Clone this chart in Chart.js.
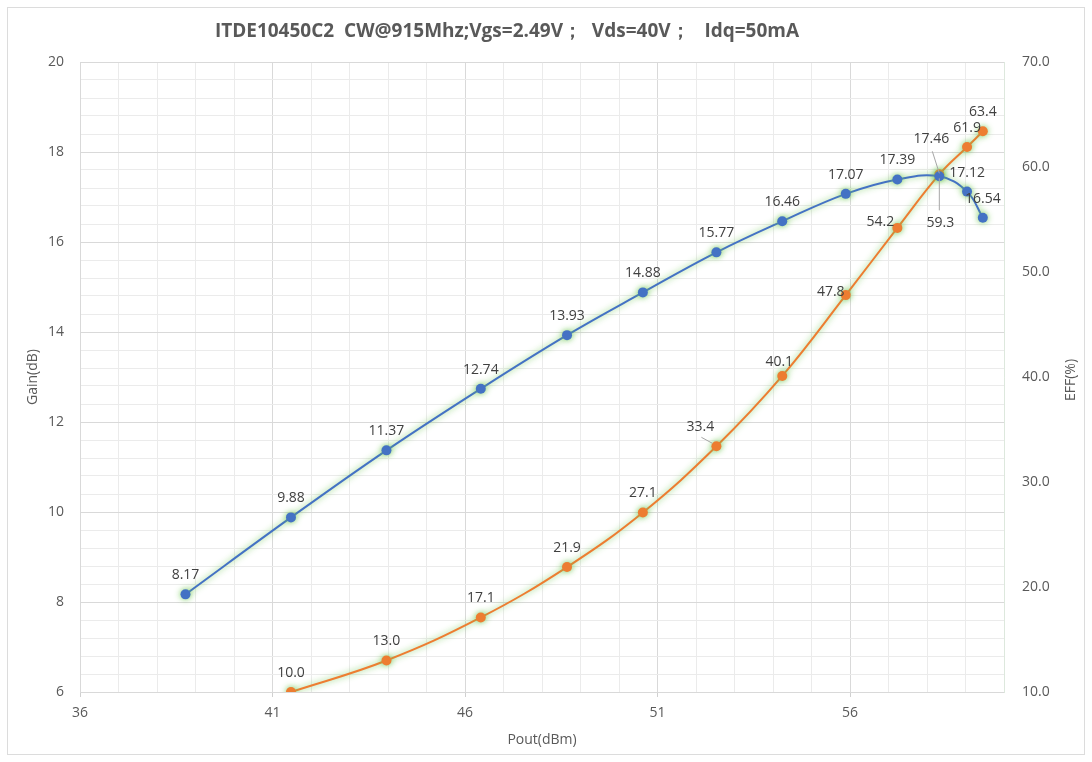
<!DOCTYPE html>
<html>
<head>
<meta charset="utf-8">
<script src="https://cdn.jsdelivr.net/npm/chart.js@4.4.0/dist/chart.umd.min.js"></script>
<style>
  html, body { margin: 0; padding: 0; background: #fff; }
  #wrap { width: 1092px; height: 762px; }
</style>
</head>
<body>
<div id="wrap"><canvas id="gainChart" width="1092" height="762"></canvas></div>
<script>
// Data
const pout = [38.74, 41.48, 43.96, 46.41, 48.65, 50.62, 52.53, 54.24, 55.89, 57.23, 58.32, 59.04, 59.45];
const gain = [8.17, 9.88, 11.37, 12.74, 13.93, 14.88, 15.77, 16.46, 17.07, 17.39, 17.46, 17.12, 16.54];
// efficiency starts at the second Pout point
const eff = [10.0, 13.0, 17.1, 21.9, 27.1, 33.4, 40.1, 47.8, 54.2, 59.3, 61.9, 63.4];
const xTickLabels = [36, 41, 46, 51, 56];
const gainTickLabels = [6, 8, 10, 12, 14, 16, 18, 20];
const effTickLabels = [10, 20, 30, 40, 50, 60, 70];
const chartTitle = 'ITDE10450C2  CW@915Mhz;Vgs=2.49V；  Vds=40V；   Idq=50mA';

const gainData = gain.map((g, i) => ({ x: pout[i], y: g }));
const effData = eff.map((e, i) => ({ x: pout[i + 1], y: e }));

const txtColor = '#595959';
const font = "'Open Sans', 'Noto Sans', sans-serif";

// label placement tweaks (dx, dy, leader line) per dataset/index
const labelTweaks = {
    '0-10': { dx: -8, dy: -37, lead: [-7, -25, 0, -3] },
    '1-5': { dx: -16, dy: -19, lead: [-15, -9, -4, -3] },
    '1-6': { dx: -3, dy: -14 },
    '1-7': { dx: -15, dy: -3 },
    '1-8': { dx: -17, dy: -6 },
    '1-9': { dx: 1, dy: 49, lead: [0, 4, 0, 36] }
};

// background, outer border, title and right axis title
const frame = {
    id: 'frame',
    beforeDraw(chart) {
        const c = chart.ctx;
        c.save();
        c.fillStyle = '#fff';
        c.fillRect(0, 0, chart.width, chart.height);
        c.strokeStyle = '#dcdcdc';
        c.lineWidth = 1;
        c.strokeRect(7.5, 7.5, chart.width - 15, chart.height - 15);
        c.restore();
    },
    afterDraw(chart) {
        const c = chart.ctx;
        c.save();
        c.fillStyle = txtColor;
        c.textAlign = 'center';
        c.textBaseline = 'middle';
        c.font = 'bold 19px ' + font;
        c.fillText(chartTitle, 507, 32);
        // right axis title reads bottom to top
        c.translate(1071, 380);
        c.rotate(-Math.PI / 2);
        c.font = '14px ' + font;
        c.fillText('EFF(%)', 0, 0);
        c.restore();
    }
};

// green glow around the lines
const glow = {
    id: 'glow',
    beforeDatasetDraw(chart) {
        const c = chart.ctx;
        c.save();
        c.shadowColor = 'rgba(110, 200, 80, 0.9)';
        c.shadowBlur = 6;
    },
    afterDatasetDraw(chart) {
        chart.ctx.restore();
    }
};

// value labels
const valueLabels = {
    id: 'valueLabels',
    afterDatasetsDraw(chart) {
        const c = chart.ctx;
        c.save();
        c.font = '14px ' + font;
        c.fillStyle = '#404040';
        c.textAlign = 'center';
        c.textBaseline = 'middle';
        chart.data.datasets.forEach((ds, di) => {
            const meta = chart.getDatasetMeta(di);
            meta.data.forEach((pt, i) => {
                const v = ds.data[i].y;
                const t = labelTweaks[di + '-' + i] || { dx: 0, dy: -19 };
                if (t.lead) {
                    c.strokeStyle = '#a6a6a6';
                    c.lineWidth = 1;
                    c.beginPath();
                    c.moveTo(pt.x + t.lead[0], pt.y + t.lead[1]);
                    c.lineTo(pt.x + t.lead[2], pt.y + t.lead[3]);
                    c.stroke();
                }
                c.fillText(v.toFixed(di === 0 ? 2 : 1), pt.x + t.dx, pt.y + t.dy);
            });
        });
        c.restore();
    }
};

const isMajor = (v, base, step) => Math.abs((v - base) / step - Math.round((v - base) / step)) < 1e-6;

const ctx = document.getElementById('gainChart').getContext('2d');
new Chart(ctx, {
    type: 'line',
    data: {
        datasets: [{
            label: 'Gain',
            data: gainData,
            yAxisID: 'y',
            borderColor: '#4472C4',
            backgroundColor: '#4472C4',
            borderWidth: 2,
            pointRadius: 5,
            pointBorderWidth: 0,
            tension: 0.4
        }, {
            label: 'EFF',
            data: effData,
            yAxisID: 'y1',
            borderColor: '#ED7D31',
            backgroundColor: '#ED7D31',
            borderWidth: 2,
            pointRadius: 5,
            pointBorderWidth: 0,
            tension: 0.4
        }]
    },
    options: {
        responsive: false,
        animation: false,
        layout: { padding: { top: 62 } },
        plugins: {
            legend: { display: false },
            tooltip: { enabled: false }
        },
        scales: {
            x: {
                type: 'linear',
                min: 36,
                max: 60,
                afterFit: s => { s.height = 70; },
                ticks: {
                    stepSize: 1,
                    autoSkip: false,
                    maxRotation: 0,
                    padding: 8,
                    color: txtColor,
                    font: { family: font, size: 14 },
                    callback: v => xTickLabels.includes(v) ? String(v) : ''
                },
                grid: {
                    color: c => isMajor(c.tick.value, 36, 5) ? '#d9d9d9' : '#ebebeb',
                    tickColor: c => isMajor(c.tick.value, 36, 5) ? '#d0d0d0' : 'rgba(0,0,0,0)',
                    tickLength: 5
                },
                border: { color: '#d9d9d9' },
                title: {
                    display: true,
                    text: 'Pout(dBm)',
                    color: txtColor,
                    font: { family: font, size: 14 },
                    padding: { bottom: 14 }
                }
            },
            y: {
                position: 'left',
                min: 6,
                max: 20,
                afterFit: s => { s.width = 80; },
                ticks: {
                    stepSize: 0.4,
                    autoSkip: false,
                    padding: 16,
                    color: txtColor,
                    font: { family: font, size: 14 },
                    callback: v => gainTickLabels.some(t => Math.abs(t - v) < 1e-6) ? String(Math.round(v)) : ''
                },
                grid: {
                    drawTicks: false,
                    color: c => isMajor(c.tick.value, 6, 2) ? '#d9d9d9' : '#ebebeb'
                },
                border: { color: '#d9d9d9' },
                title: {
                    display: true,
                    text: 'Gain(dB)',
                    color: txtColor,
                    font: { family: font, size: 14 },
                    padding: { top: 25 }
                }
            },
            y1: {
                position: 'right',
                min: 10,
                max: 70,
                afterFit: s => { s.width = 88; },
                ticks: {
                    stepSize: 10,
                    padding: 18,
                    color: txtColor,
                    font: { family: font, size: 14 },
                    callback: v => effTickLabels.includes(v) ? v.toFixed(1) : ''
                },
                grid: { display: false, drawTicks: false },
                border: { display: true, color: '#dde8dd' }
            }
        }
    },
    plugins: [frame, glow, valueLabels]
});
</script>
</body>
</html>
